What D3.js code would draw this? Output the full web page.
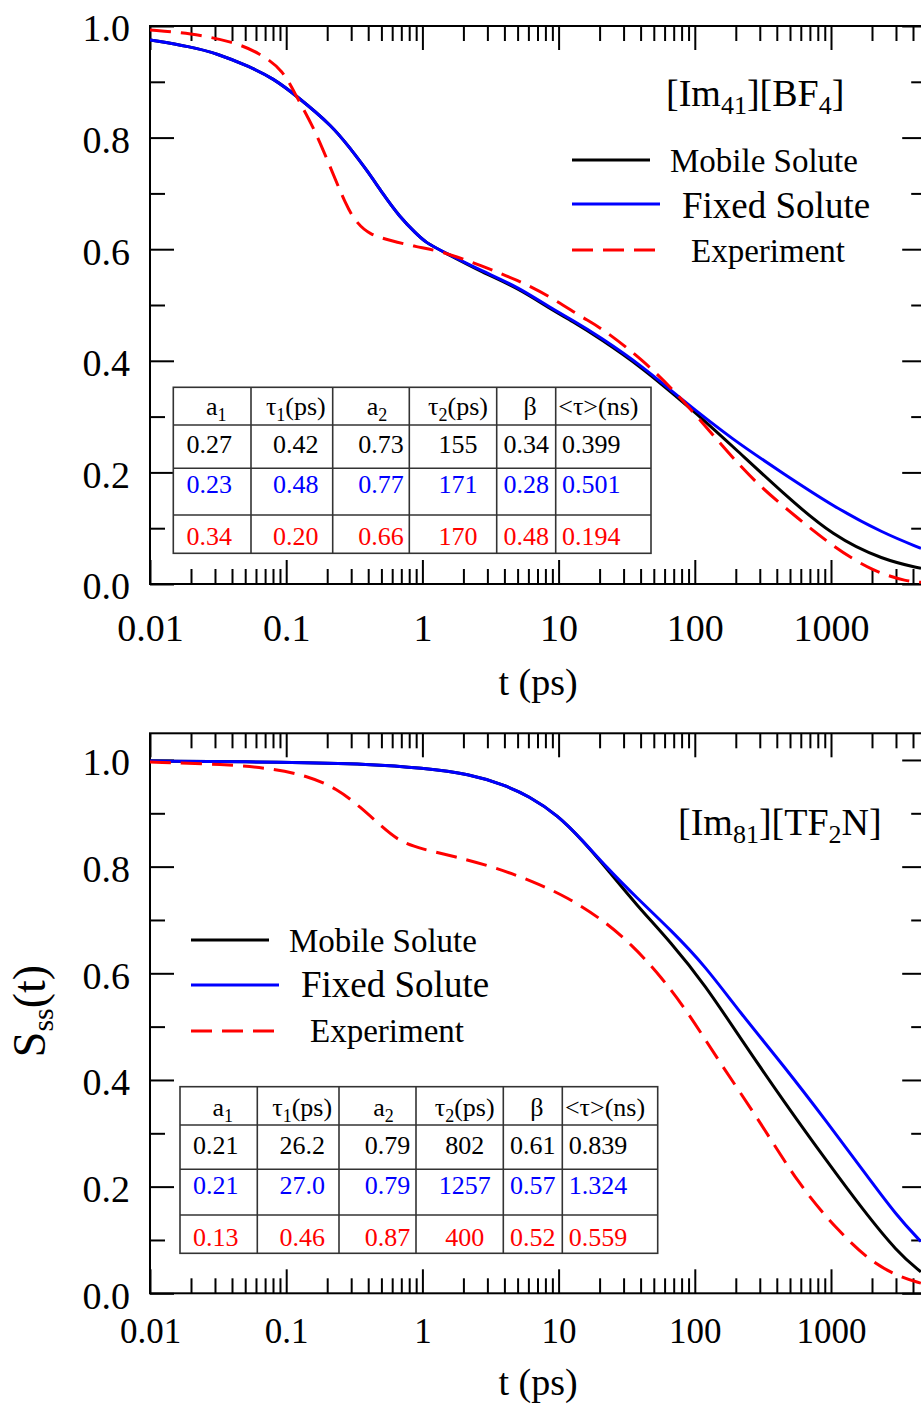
<!DOCTYPE html>
<html>
<head>
<meta charset="utf-8">
<script src="https://cdn.jsdelivr.net/npm/d3@7"></script>
<style>
  html, body { margin: 0; padding: 0; background: #fff; }
  svg { display: block; font-family: "Liberation Serif", "Times New Roman", serif; }
</style>
</head>
<body>
<svg id="chart" width="921" height="1405"></svg>
<script>
// ---------------- data ----------------
const xMajorTicks = [0.01, 0.1, 1, 10, 100, 1000];
const xTickLabels = ["0.01", "0.1", "1", "10", "100", "1000"];
const yMajorTicks = [0, 0.2, 0.4, 0.6, 0.8, 1.0];
const yTickLabels = ["0.0", "0.2", "0.4", "0.6", "0.8", "1.0"];
const yMinorTicks = [0.1, 0.3, 0.5, 0.7, 0.9];

const seriesNames = ["Mobile Solute", "Fixed Solute", "Experiment"];
const seriesColors = ["#000000", "#0000ff", "#ff0000"];

// [Im41][BF4] — solvation response S(t), t in ps
const bfMobileT = [0.01, 0.0197, 0.0309, 0.0542, 0.0804, 0.119, 0.22, 0.294, 0.39, 0.51, 0.68, 0.90, 1.07, 1.41, 2.78, 4.97, 8.7, 12.6, 20.1, 41.9, 77.8, 109, 191, 447, 1040, 2420, 4580];
const bfMobileS = [0.975, 0.963, 0.951, 0.927, 0.906, 0.875, 0.820, 0.781, 0.742, 0.700, 0.658, 0.628, 0.611, 0.596, 0.558, 0.531, 0.493, 0.471, 0.440, 0.386, 0.330, 0.300, 0.246, 0.162, 0.085, 0.043, 0.028];

const bfFixedT = [0.01, 0.0197, 0.0309, 0.0542, 0.0804, 0.119, 0.22, 0.294, 0.39, 0.51, 0.68, 0.90, 1.07, 1.41, 2.78, 4.97, 8.7, 12.6, 20.1, 41.9, 77.8, 191, 447, 1040, 2420, 4580];
const bfFixedS = [0.975, 0.963, 0.951, 0.927, 0.906, 0.875, 0.820, 0.781, 0.742, 0.700, 0.658, 0.628, 0.611, 0.596, 0.560, 0.533, 0.495, 0.473, 0.443, 0.389, 0.333, 0.258, 0.198, 0.139, 0.091, 0.064];

const bfExpT = [0.01, 0.0197, 0.0408, 0.0643, 0.095, 0.119, 0.158, 0.21, 0.278, 0.327, 0.41, 0.576, 0.906, 1.42, 2.79, 4.97, 8.7, 15.2, 20.1, 41.9, 77.8, 161, 282, 589, 1040, 2000, 3700, 4580];
const bfExpS = [0.993, 0.987, 0.972, 0.951, 0.921, 0.873, 0.820, 0.748, 0.676, 0.648, 0.626, 0.616, 0.604, 0.596, 0.569, 0.545, 0.515, 0.476, 0.461, 0.401, 0.336, 0.246, 0.180, 0.115, 0.067, 0.023, 0.004, 0.003];

// [Im81][TF2N]
const tfMobileT = [0.01, 0.103, 0.42, 0.99, 2.23, 3.98, 6.0, 9.95, 15.0, 22.6, 37.3, 66.8, 119, 214, 452, 955, 1711, 3066, 4570];
const tfMobileS = [0.998, 0.996, 0.992, 0.985, 0.974, 0.953, 0.933, 0.896, 0.849, 0.796, 0.728, 0.658, 0.578, 0.480, 0.359, 0.244, 0.157, 0.077, 0.040];

const tfFixedT = [0.01, 0.103, 0.42, 0.99, 2.23, 3.98, 6.0, 9.95, 15.0, 22.6, 37.3, 66.8, 119, 214, 452, 955, 1711, 3066, 4570];
const tfFixedS = [0.998, 0.996, 0.992, 0.985, 0.974, 0.953, 0.933, 0.896, 0.849, 0.798, 0.742, 0.681, 0.614, 0.527, 0.426, 0.318, 0.231, 0.144, 0.097];

const tfExpT = [0.01, 0.035, 0.08, 0.143, 0.235, 0.357, 0.498, 0.69, 0.99, 1.73, 3.37, 6.55, 11.7, 20.9, 34.4, 56.6, 93, 152, 296, 578, 1127, 2020, 3330, 4570];
const tfExpS = [0.996, 0.992, 0.984, 0.970, 0.947, 0.910, 0.876, 0.846, 0.833, 0.819, 0.799, 0.772, 0.742, 0.701, 0.654, 0.594, 0.520, 0.433, 0.325, 0.204, 0.117, 0.056, 0.029, 0.019];

// fit-parameter tables (rows: mobile, fixed, experiment)
const tableHeader = [
  [["a", ""], ["1", "sub"]],
  [["\u03c4", ""], ["1", "sub"], ["(ps)", ""]],
  [["a", ""], ["2", "sub"]],
  [["\u03c4", ""], ["2", "sub"], ["(ps)", ""]],
  [["\u03b2", ""]],
  [["<\u03c4>(ns)", ""]]
];
const bfTableRows = [
  ["0.27", "0.42", "0.73", "155", "0.34", "0.399"],
  ["0.23", "0.48", "0.77", "171", "0.28", "0.501"],
  ["0.34", "0.20", "0.66", "170", "0.48", "0.194"]
];
const tfTableRows = [
  ["0.21", "26.2", "0.79", "802", "0.61", "0.839"],
  ["0.21", "27.0", "0.79", "1257", "0.57", "1.324"],
  ["0.13", "0.46", "0.87", "400", "0.52", "0.559"]
];

// ---------------- drawing ----------------
const svg = d3.select("#chart");
svg.append("rect").attr("width", 921).attr("height", 1405).attr("fill", "#fff");

const x = d3.scaleLog().domain([0.01, 5000]).range([150, 926.2]);

const xMinorTicks = [];
for (const dec of xMajorTicks) {
  for (let m = 2; m <= 9; m++) {
    const v = +(dec * m).toPrecision(3);
    if (v <= 5000) xMinorTicks.push(v);
  }
}

function zip(ts, ss) { return ts.map((t, i) => ({ t, s: ss[i] })); }

function drawPanel(cfg) {
  const y = d3.scaleLinear().domain(cfg.yDomain).range(cfg.yRange);
  const g = svg.append("g");
  const top = cfg.yRange[1], bottom = cfg.yRange[0];
  const left = x.range()[0], right = x.range()[1];

  const clipId = "clip" + cfg.id;
  svg.append("clipPath").attr("id", clipId)
    .append("rect").attr("x", left).attr("y", top)
    .attr("width", right - left).attr("height", bottom - top);

  const styleAxis = sel => {
    sel.select(".domain").remove();
    sel.selectAll(".tick line").attr("stroke", "#000").attr("stroke-width", 2);
  };

  // bottom axis: major ticks with labels
  const bAxis = g.append("g").attr("transform", `translate(0,${bottom})`)
    .call(d3.axisBottom(x).tickValues(xMajorTicks).tickSize(-24)
      .tickFormat((d, i) => xTickLabels[i]));
  styleAxis(bAxis);
  bAxis.selectAll(".tick text")
    .attr("y", cfg.xLabelOffset).attr("dy", 0)
    .attr("font-size", cfg.xLabelSize).attr("fill", "#000")
    .attr("font-family", "Liberation Serif, serif");
  const bMinor = g.append("g").attr("transform", `translate(0,${bottom})`)
    .call(d3.axisBottom(x).tickValues(xMinorTicks).tickSize(-15).tickFormat(""));
  styleAxis(bMinor);

  // top axis
  const tAxis = g.append("g").attr("transform", `translate(0,${top})`)
    .call(d3.axisTop(x).tickValues(xMajorTicks).tickSize(-24).tickFormat(""));
  styleAxis(tAxis);
  const tMinor = g.append("g").attr("transform", `translate(0,${top})`)
    .call(d3.axisTop(x).tickValues(xMinorTicks).tickSize(-15).tickFormat(""));
  styleAxis(tMinor);

  // left axis
  const lAxis = g.append("g").attr("transform", `translate(${left},0)`)
    .call(d3.axisLeft(y).tickValues(yMajorTicks).tickSize(-24).tickPadding(20)
      .tickFormat((d, i) => yTickLabels[i]));
  styleAxis(lAxis);
  lAxis.selectAll(".tick text")
    .attr("dy", "0.39em").attr("font-size", 38).attr("fill", "#000")
    .attr("font-family", "Liberation Serif, serif");
  const lMinor = g.append("g").attr("transform", `translate(${left},0)`)
    .call(d3.axisLeft(y).tickValues(yMinorTicks).tickSize(-15).tickFormat(""));
  styleAxis(lMinor);

  // right axis
  const rAxis = g.append("g").attr("transform", `translate(${right},0)`)
    .call(d3.axisRight(y).tickValues(yMajorTicks).tickSize(-24).tickFormat(""));
  styleAxis(rAxis);
  const rMinor = g.append("g").attr("transform", `translate(${right},0)`)
    .call(d3.axisRight(y).tickValues(yMinorTicks).tickSize(-15).tickFormat(""));
  styleAxis(rMinor);

  // frame
  g.append("rect").attr("x", left).attr("y", top)
    .attr("width", right - left).attr("height", bottom - top)
    .attr("fill", "none").attr("stroke", "#000").attr("stroke-width", 2);

  // x-axis title
  g.append("text").attr("x", 538).attr("y", cfg.xTitleBaseline)
    .attr("text-anchor", "middle").attr("font-size", 38).text("t (ps)");

  // curves (B-spline through the sampled response)
  const line = d3.line().x(d => x(d.t)).y(d => y(d.s)).curve(d3.curveBasis);
  const curves = g.append("g").attr("clip-path", `url(#${clipId})`);
  cfg.series.forEach((s, i) => {
    curves.append("path").datum(s)
      .attr("d", line).attr("fill", "none")
      .attr("stroke", seriesColors[i]).attr("stroke-width", 3)
      .attr("stroke-dasharray", i === 2 ? "21,10" : null)
      .attr("stroke-linejoin", "round");
  });

  // compound label
  const title = g.append("text").attr("x", cfg.titleX).attr("y", cfg.titleY)
    .attr("font-size", 38);
  let prevSub = false;
  cfg.titleParts.forEach(([txt, sub]) => {
    title.append("tspan").text(txt)
      .attr("font-size", sub ? 26 : 38)
      .attr("dy", sub ? 8 : (prevSub ? -8 : 0));
    prevSub = sub;
  });

  // legend
  const lg = g.append("g");
  cfg.legend.forEach((L, i) => {
    lg.append("line").attr("x1", L.x1).attr("x2", L.x2).attr("y1", L.ly).attr("y2", L.ly)
      .attr("stroke", seriesColors[i]).attr("stroke-width", 3)
      .attr("stroke-dasharray", i === 2 ? "21,10" : null);
    lg.append("text").attr("x", L.tx).attr("y", L.ty)
      .attr("font-size", L.size).text(seriesNames[i]);
  });

  // parameter table
  drawTable(g, cfg.table);
}

function drawTable(g, T) {
  const tg = g.append("g");
  const xs = T.cols, ys = T.rowsY;
  tg.append("rect").attr("x", xs[0]).attr("y", ys[0])
    .attr("width", xs[xs.length - 1] - xs[0]).attr("height", ys[ys.length - 1] - ys[0])
    .attr("fill", "#fff").attr("stroke", "#333").attr("stroke-width", 1.6);
  xs.slice(1, -1).forEach(cx => tg.append("line")
    .attr("x1", cx).attr("x2", cx).attr("y1", ys[0]).attr("y2", ys[ys.length - 1])
    .attr("stroke", "#333").attr("stroke-width", 1.6));
  ys.slice(1, -1).forEach(cy => tg.append("line")
    .attr("x1", xs[0]).attr("x2", xs[xs.length - 1]).attr("y1", cy).attr("y2", cy)
    .attr("stroke", "#333").attr("stroke-width", 1.6));

  const headDx = [4, 4, 6, 5, 4, -5];
  const valDx = [-3, 4, 10, 5, 0, -12];
  tableHeader.forEach((parts, c) => {
    const cx = (xs[c] + xs[c + 1]) / 2 + headDx[c];
    const t = tg.append("text").attr("x", cx).attr("y", T.baselines[0])
      .attr("text-anchor", "middle").attr("font-size", 26).attr("fill", "#000");
    let prevSub = false;
    parts.forEach(([txt, kind]) => {
      const sub = kind === "sub";
      t.append("tspan").text(txt).attr("font-size", sub ? 18 : 26)
        .attr("dy", sub ? 6 : (prevSub ? -6 : 0));
      prevSub = sub;
    });
  });
  T.rows.forEach((row, r) => {
    row.forEach((val, c) => {
      const cx = (xs[c] + xs[c + 1]) / 2 + valDx[c];
      tg.append("text").attr("x", cx).attr("y", T.baselines[r + 1])
        .attr("text-anchor", "middle").attr("font-size", 26)
        .attr("fill", seriesColors[r]).text(val);
    });
  });
}

drawPanel({
  id: "bf",
  yDomain: [0, 1.0], yRange: [584, 26],
  xLabelSize: 38, xLabelOffset: 57, xTitleBaseline: 695,
  series: [zip(bfMobileT, bfMobileS), zip(bfFixedT, bfFixedS), zip(bfExpT, bfExpS)],
  titleX: 666, titleY: 106,
  titleParts: [["[Im", false], ["41", true], ["][BF", false], ["4", true], ["]", false]],
  legend: [
    { x1: 572, x2: 650, ly: 160, tx: 670, ty: 172, size: 33 },
    { x1: 572, x2: 660, ly: 204, tx: 682, ty: 218, size: 37 },
    { x1: 572, x2: 656, ly: 250, tx: 691, ty: 262, size: 33 }
  ],
  table: {
    cols: [173.3, 251, 332.7, 409.3, 496.7, 555.7, 651],
    rowsY: [387.3, 425, 468.3, 515, 553.3],
    baselines: [415, 453.3, 493.3, 545],
    rows: bfTableRows
  }
});

drawPanel({
  id: "tf",
  yDomain: [0, 1.05], yRange: [1293.3, 733.3],
  xLabelSize: 35, xLabelOffset: 50, xTitleBaseline: 1395,
  series: [zip(tfMobileT, tfMobileS), zip(tfFixedT, tfFixedS), zip(tfExpT, tfExpS)],
  titleX: 678, titleY: 835,
  titleParts: [["[Im", false], ["81", true], ["][TF", false], ["2", true], ["N]", false]],
  legend: [
    { x1: 191, x2: 269, ly: 940, tx: 289, ty: 952, size: 33 },
    { x1: 191, x2: 279, ly: 985, tx: 301, ty: 997, size: 37 },
    { x1: 191, x2: 276, ly: 1031, tx: 310, ty: 1042, size: 33 }
  ],
  table: {
    cols: [180, 257.3, 339, 416, 503.3, 562.3, 657.7],
    rowsY: [1086.7, 1125, 1169.3, 1215, 1253.3],
    baselines: [1115.5, 1153.5, 1194, 1245.5],
    rows: tfTableRows
  }
});

// shared y-axis title
const yTitle = svg.append("text")
  .attr("transform", "translate(45,1011) rotate(-90)")
  .attr("text-anchor", "middle").attr("font-size", 46);
yTitle.append("tspan").text("S");
yTitle.append("tspan").text("ss").attr("font-size", 30).attr("dy", 8);
yTitle.append("tspan").text("(t)").attr("dy", -8);
</script>
</body>
</html>
